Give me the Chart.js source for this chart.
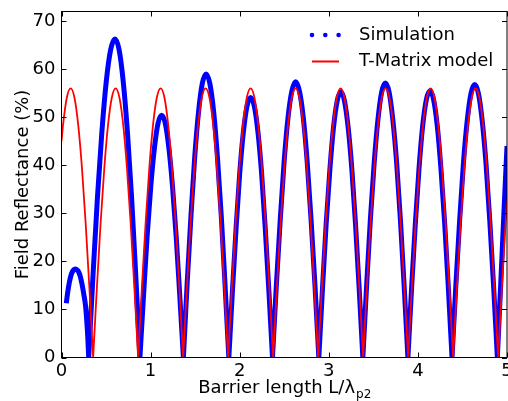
<!DOCTYPE html>
<html>
<head>
<meta charset="utf-8">
<script src="https://cdn.jsdelivr.net/npm/chart.js@4/dist/chart.umd.min.js"></script>
<style>
  html, body { margin: 0; padding: 0; background: #fff; }
  #wrap { width: 508px; height: 401px; }
</style>
</head>
<body>
<div id="wrap"><canvas id="chart" width="508" height="401"></canvas></div>
<script>
// T-Matrix model (red line), one row per arch, null = break between arches
const modelX = [
  0, 0.018, 0.060, 0.103, 0.145, 0.187, 0.229, 0.271, 0.313, 0.355, 0.355,
  0.355, 0.397, 0.439, 0.481, 0.523, 0.565, 0.608, 0.650, 0.692, 0.734, 0.776, 0.818, 0.860, 0.860,
  0.860, 0.902, 0.944, 0.986, 1.028, 1.070, 1.113, 1.155, 1.197, 1.239, 1.281, 1.323, 1.365, 1.365,
  1.365, 1.407, 1.449, 1.491, 1.533, 1.575, 1.618, 1.660, 1.702, 1.744, 1.786, 1.828, 1.870, 1.870,
  1.870, 1.912, 1.954, 1.996, 2.038, 2.080, 2.123, 2.165, 2.207, 2.249, 2.291, 2.333, 2.375, 2.375,
  2.375, 2.417, 2.459, 2.501, 2.543, 2.585, 2.628, 2.670, 2.712, 2.754, 2.796, 2.838, 2.880, 2.880,
  2.880, 2.922, 2.964, 3.006, 3.048, 3.090, 3.133, 3.175, 3.217, 3.259, 3.301, 3.343, 3.385, 3.385,
  3.385, 3.427, 3.469, 3.511, 3.553, 3.595, 3.638, 3.680, 3.722, 3.764, 3.806, 3.848, 3.890, 3.890,
  3.890, 3.932, 3.974, 4.016, 4.058, 4.100, 4.143, 4.185, 4.227, 4.269, 4.311, 4.353, 4.395, 4.395,
  4.395, 4.437, 4.479, 4.521, 4.563, 4.605, 4.648, 4.690, 4.732, 4.774, 4.816, 4.858, 4.900, 4.900,
  4.900, 4.942, 4.984, 5.0
];
const modelY = [
  45.0, 48.5, 54.1, 56.0, 54.1, 48.5, 39.6, 28.0, 14.5, 0, null,
  0, 14.5, 28.0, 39.6, 48.5, 54.1, 56.0, 54.1, 48.5, 39.6, 28.0, 14.5, 0, null,
  0, 14.5, 28.0, 39.6, 48.5, 54.1, 56.0, 54.1, 48.5, 39.6, 28.0, 14.5, 0, null,
  0, 14.5, 28.0, 39.6, 48.5, 54.1, 56.0, 54.1, 48.5, 39.6, 28.0, 14.5, 0, null,
  0, 14.5, 28.0, 39.6, 48.5, 54.1, 56.0, 54.1, 48.5, 39.6, 28.0, 14.5, 0, null,
  0, 14.5, 28.0, 39.6, 48.5, 54.1, 56.0, 54.1, 48.5, 39.6, 28.0, 14.5, 0, null,
  0, 14.5, 28.0, 39.6, 48.5, 54.1, 56.0, 54.1, 48.5, 39.6, 28.0, 14.5, 0, null,
  0, 14.5, 28.0, 39.6, 48.5, 54.1, 56.0, 54.1, 48.5, 39.6, 28.0, 14.5, 0, null,
  0, 14.5, 28.0, 39.6, 48.5, 54.1, 56.0, 54.1, 48.5, 39.6, 28.0, 14.5, 0, null,
  0, 14.5, 28.0, 39.6, 48.5, 54.1, 56.0, 54.1, 48.5, 39.6, 28.0, 14.5, 0, null,
  0, 14.5, 28.0, 32.6
];

// Simulation (blue dots), same layout
const simX = [
  0.054, 0.07, 0.09, 0.11, 0.13, 0.15, 0.17, 0.19, 0.21, 0.23, 0.25, 0.27, 0.285, 0.295, 0.305, 0.305,
  0.305, 0.354, 0.403, 0.453, 0.502, 0.551, 0.600, 0.647, 0.693, 0.740, 0.787, 0.833, 0.880, 0.880,
  0.880, 0.921, 0.961, 1.002, 1.043, 1.083, 1.124, 1.165, 1.205, 1.246, 1.287, 1.327, 1.368, 1.368,
  1.368, 1.410, 1.453, 1.495, 1.538, 1.580, 1.623, 1.665, 1.708, 1.750, 1.793, 1.835, 1.878, 1.878,
  1.878, 1.919, 1.960, 2.000, 2.041, 2.082, 2.123, 2.164, 2.205, 2.246, 2.286, 2.327, 2.368, 2.368,
  2.368, 2.411, 2.455, 2.498, 2.541, 2.585, 2.628, 2.671, 2.715, 2.758, 2.801, 2.845, 2.888, 2.888,
  2.888, 2.929, 2.970, 3.012, 3.053, 3.094, 3.135, 3.176, 3.217, 3.259, 3.300, 3.341, 3.382, 3.382,
  3.382, 3.424, 3.466, 3.509, 3.551, 3.593, 3.635, 3.677, 3.719, 3.762, 3.804, 3.846, 3.888, 3.888,
  3.888, 3.929, 3.971, 4.012, 4.053, 4.094, 4.136, 4.177, 4.218, 4.259, 4.301, 4.342, 4.383, 4.383,
  4.383, 4.425, 4.468, 4.510, 4.553, 4.595, 4.638, 4.680, 4.722, 4.765, 4.807, 4.850, 4.892, 4.892,
  4.892, 4.930, 4.965, 5.0
];
const simY = [
  11.3, 13.6, 15.8, 17.3, 18.1, 18.4, 18.3, 17.9, 16.9, 15.3, 13.2, 10.7, 7.2, 4.2, 0, null,
  0, 17.2, 33.2, 46.9, 57.4, 64.0, 66.3, 64.0, 57.4, 46.9, 33.2, 17.2, 0, null,
  0, 13.0, 25.2, 35.6, 43.6, 48.7, 50.4, 48.7, 43.6, 35.6, 25.2, 13.0, 0, null,
  0, 15.3, 29.5, 41.7, 51.1, 57.0, 59.0, 57.0, 51.1, 41.7, 29.5, 15.3, 0, null,
  0, 14.0, 27.1, 38.3, 46.9, 52.3, 54.1, 52.3, 46.9, 38.3, 27.1, 14.0, 0, null,
  0, 14.9, 28.7, 40.6, 49.7, 55.4, 57.4, 55.4, 49.7, 40.6, 28.7, 14.9, 0, null,
  0, 14.3, 27.7, 39.1, 47.9, 53.4, 55.3, 53.4, 47.9, 39.1, 27.7, 14.3, 0, null,
  0, 14.8, 28.6, 40.4, 49.4, 55.2, 57.1, 55.2, 49.4, 40.4, 28.6, 14.8, 0, null,
  0, 14.4, 27.8, 39.2, 48.1, 53.6, 55.5, 53.6, 48.1, 39.2, 27.8, 14.4, 0, null,
  0, 14.7, 28.4, 40.2, 49.2, 54.9, 56.8, 54.9, 49.2, 40.2, 28.4, 14.7, 0, null,
  0, 15.5, 30.0, 44.0
];

const xTicks = [0, 1, 2, 3, 4, 5];
const yTicks = [0, 10, 20, 30, 40, 50, 60, 70];
const FONT = '"DejaVu Sans", sans-serif';

// frame, inward ticks, labels and legend drawn matplotlib-style
const axesPlugin = {
  id: 'mplAxes',
  afterDatasetsDraw(chart) {
    const { ctx, chartArea: a, scales: { x, y } } = chart;
    ctx.save();
    ctx.strokeStyle = '#000';
    ctx.lineWidth = 1;
    ctx.strokeRect(a.left, a.top, a.right - a.left, a.bottom - a.top);

    ctx.beginPath();
    xTicks.forEach(v => {
      const px = Math.round(x.getPixelForValue(v)) + 0.5;
      ctx.moveTo(px, a.bottom); ctx.lineTo(px, a.bottom - 5);
      ctx.moveTo(px, a.top); ctx.lineTo(px, a.top + 5);
    });
    yTicks.forEach(v => {
      const py = Math.round(y.getPixelForValue(v)) + 0.5;
      ctx.moveTo(a.left, py); ctx.lineTo(a.left + 5, py);
      ctx.moveTo(a.right, py); ctx.lineTo(a.right - 5, py);
    });
    ctx.stroke();

    ctx.fillStyle = '#000';
    ctx.font = '18px ' + FONT;
    ctx.textAlign = 'center';
    ctx.textBaseline = 'top';
    xTicks.forEach(v => ctx.fillText(String(v), x.getPixelForValue(v), a.bottom + 5));
    ctx.textAlign = 'right';
    ctx.textBaseline = 'middle';
    yTicks.forEach(v => ctx.fillText(String(v), a.left - 6, y.getPixelForValue(v)));

    // x title with subscript
    const main = 'Barrier length L/\u03bb';
    const sub = 'p2';
    ctx.font = '18px ' + FONT;
    const wMain = ctx.measureText(main).width;
    ctx.font = '12px ' + FONT;
    const wSub = ctx.measureText(sub).width;
    const x0 = (a.left + a.right) / 2 - (wMain + wSub) / 2;
    ctx.textAlign = 'left';
    ctx.textBaseline = 'alphabetic';
    ctx.font = '18px ' + FONT;
    ctx.fillText(main, x0, 393);
    ctx.font = '12px ' + FONT;
    ctx.fillText(sub, x0 + wMain + 1, 398);

    // y title
    ctx.save();
    ctx.translate(23, (a.top + a.bottom) / 2);
    ctx.rotate(-Math.PI / 2);
    ctx.font = '18px ' + FONT;
    ctx.textAlign = 'center';
    ctx.textBaseline = 'middle';
    ctx.fillText('Field Reflectance (%)', 0, 0);
    ctx.restore();

    // legend
    ctx.fillStyle = '#0000ff';
    [312, 325.3, 338.6].forEach(cx => {
      ctx.beginPath();
      ctx.arc(cx, 35, 2.3, 0, Math.PI * 2);
      ctx.fill();
    });
    ctx.strokeStyle = '#ff0000';
    ctx.lineWidth = 2;
    ctx.beginPath();
    ctx.moveTo(312, 61.5); ctx.lineTo(339, 61.5);
    ctx.stroke();
    ctx.fillStyle = '#000';
    ctx.font = '18px ' + FONT;
    ctx.textAlign = 'left';
    ctx.textBaseline = 'middle';
    ctx.fillText('Simulation', 359, 35);
    ctx.fillText('T-Matrix model', 359, 61);
    ctx.restore();
  }
};

new Chart(document.getElementById('chart'), {
  type: 'line',
  data: {
    datasets: [
      {
        label: 'T-Matrix model',
        data: modelX.map((v, i) => ({ x: v, y: modelY[i] })),
        borderColor: '#ff0000',
        borderWidth: 1.8,
        pointRadius: 0,
        cubicInterpolationMode: 'monotone',
        borderJoinStyle: 'round',
        spanGaps: false,
        clip: 0,
        order: 0
      },
      {
        label: 'Simulation',
        data: simX.map((v, i) => ({ x: v, y: simY[i] })),
        borderColor: '#0000ff',
        borderWidth: 5,
        pointRadius: 0,
        cubicInterpolationMode: 'monotone',
        borderJoinStyle: 'round',
        spanGaps: false,
        clip: 0,
        order: 1
      }
    ]
  },
  options: {
    responsive: false,
    animation: false,
    events: [],
    layout: { padding: { left: 61.5, right: 1, top: 11.5, bottom: 43.5 } },
    plugins: { legend: { display: false }, tooltip: { enabled: false } },
    scales: {
      x: { type: 'linear', min: 0, max: 5, display: false },
      y: { min: 0, max: 72, display: false }
    }
  },
  plugins: [axesPlugin]
});
</script>
</body>
</html>
